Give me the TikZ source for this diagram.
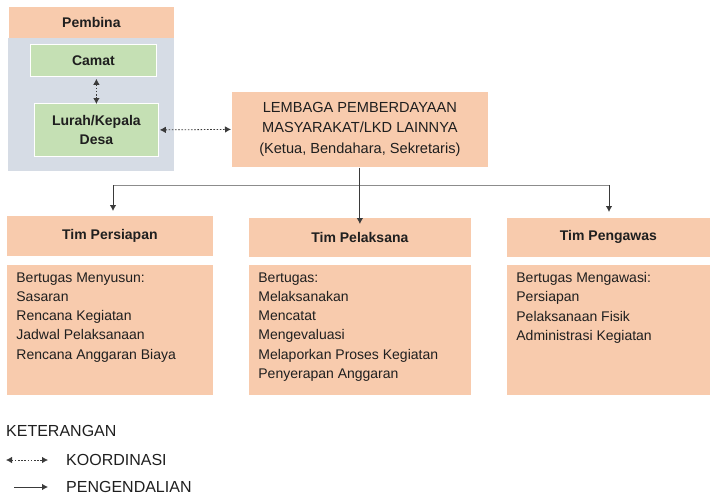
\documentclass[tikz,border=0pt]{standalone}
\usepackage{fontspec}
\setmainfont{Liberation Sans}
\usetikzlibrary{arrows.meta}
\definecolor{peach}{HTML}{F8CBAD}
\definecolor{sage}{HTML}{C5E0B4}
\definecolor{slate}{HTML}{D6DCE5}
\definecolor{ink}{HTML}{1F1F1F}
\definecolor{wire}{HTML}{3A3A3A}
\definecolor{bar}{HTML}{8C8C8C}
\begin{document}
\begin{tikzpicture}[x=1pt,y=-1pt,text=ink,
	box/.style={fill=peach,draw=white,line width=0.8pt,inner sep=0pt,anchor=north west,font=\fontsize{14}{17}\selectfont},
	head/.style={box,font=\fontsize{14}{17}\selectfont\bfseries},
	leaf/.style={box,fill=sage,font=\fontsize{14}{18.5}\selectfont\bfseries,align=center},
	body/.style={box,inner xsep=10pt,inner ysep=8pt},
	coord/.style={wire,line width=0.8pt,dash pattern=on 1.6pt off 1.6pt,{Latex[length=6pt,width=6.5pt]}-{Latex[length=6pt,width=6.5pt]}},
	ctrl/.style={wire,line width=0.9pt,-{Latex[length=6pt,width=6.5pt]}},
	legend/.style={anchor=west,inner sep=0pt,font=\fontsize{16}{19}\selectfont}]
	\useasboundingbox (0,0) rectangle (710,496);
	\node[head,minimum width=166pt,minimum height=32pt] (pembina) at (8,6) {Pembina};
	\node[box,fill=slate,draw=none,minimum width=166pt,minimum height=133pt] (panel) at (8,38) {};
	\node[leaf,minimum width=126pt,minimum height=32pt] (camat) at (30,44) {Camat};
	\node[leaf,minimum width=124pt,minimum height=53pt] (lurah) at (34,103) {Lurah/Kepala\\Desa};
	\node[box,minimum width=257pt,minimum height=76pt,align=center,font=\fontsize{14.6}{20.5}\selectfont] (lpm) at (231,91) {LEMBAGA PEMBERDAYAAN\\MASYARAKAT/LKD LAINNYA\\(Ketua, Bendahara, Sekretaris)};
	\node[head,minimum width=207pt,minimum height=41pt] (persiapan) at (6,215) {Tim Persiapan};
	\node[head,minimum width=223pt,minimum height=40pt] (pelaksana) at (248,217) {Tim Pelaksana};
	\node[head,minimum width=204pt,minimum height=40pt] (pengawas) at (506,217) {Tim Pengawas};
	\node[body] (persiapanBody) at (6,264) {\parbox[t][115pt][t]{187pt}{\fontsize{14}{19.3}\selectfont Bertugas Menyusun:\\Sasaran\\Rencana Kegiatan\\Jadwal Pelaksanaan\\Rencana Anggaran Biaya}};
	\node[body] (pelaksanaBody) at (248,264) {\parbox[t][115pt][t]{203pt}{\fontsize{14}{19.3}\selectfont Bertugas:\\Melaksanakan\\Mencatat\\Mengevaluasi\\Melaporkan Proses Kegiatan\\Penyerapan Anggaran}};
	\node[body] (pengawasBody) at (506,264) {\parbox[t][115pt][t]{184pt}{\fontsize{14}{19.3}\selectfont Bertugas Mengawasi:\\Persiapan\\Pelaksanaan Fisik\\Administrasi Kegiatan}};
	\draw[coord] (lurah.north |- camat.south) ++(0,2) -- ([yshift=-1pt]lurah.north);
	\draw[coord] ([xshift=1pt]lurah.east) -- (lpm.west);
	\coordinate (bus) at (lpm.south |- 0,185);
	\draw[wire,line width=0.9pt] (lpm.south) -- (bus);
	\draw[bar,line width=0.9pt] (bus -| 113,0) -- (bus -| 609,0);
	\draw[ctrl] (bus -| 113,0) -- (113,211);
	\draw[ctrl] (bus) -- ([yshift=-7pt]bus |- pelaksana.north);
	\draw[ctrl] (bus -| 609,0) -- (609,212);
	\node[legend] (keterangan) at (6,431) {KETERANGAN};
	\coordinate (coordA) at (6,460);
	\coordinate (coordB) at (48,460);
	\draw[coord] (coordA) -- (coordB);
	\node[legend] (koordinasi) at (66,460) {KOORDINASI};
	\coordinate (ctrlA) at (14,487);
	\coordinate (ctrlB) at (48,487);
	\draw[ctrl] (ctrlA) -- (ctrlB);
	\node[legend] (pengendalian) at (66,487) {PENGENDALIAN};
\end{tikzpicture}
\end{document}
